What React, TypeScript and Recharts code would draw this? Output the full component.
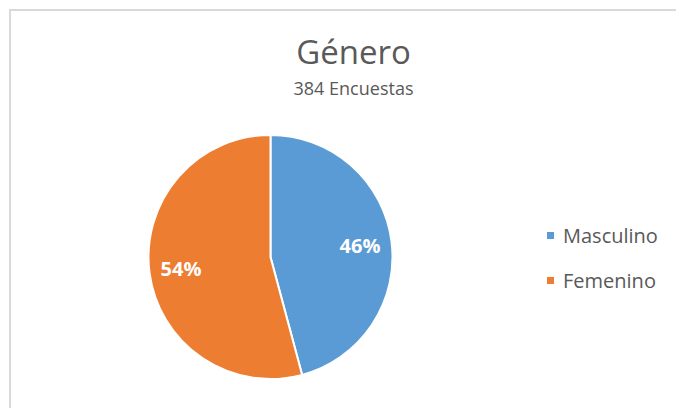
import React from 'react';
import { PieChart, Pie, Cell, Legend } from 'recharts';

const categories = ['Masculino', 'Femenino'];
const responses = [176, 208];
const colors = ['#5B9BD5', '#ED7D31'];
const title = 'Género';
const subtitle = '384 Encuestas';

const data = categories.map((name, i) => ({ name, value: responses[i] }));
const total = responses.reduce((a, b) => a + b, 0);

const RADIAN = Math.PI / 180;

const renderLabel = (props: any) => {
  const { cx, cy, midAngle, outerRadius, value } = props;
  const r = outerRadius * 0.74;
  const x = cx + r * Math.cos(-midAngle * RADIAN);
  const y = cy + r * Math.sin(-midAngle * RADIAN);
  return (
    <text
      x={x}
      y={y}
      fill="#ffffff"
      textAnchor="middle"
      dominantBaseline="central"
      fontSize={20}
      fontWeight="bold"
      fontFamily="'Open Sans', sans-serif"
    >
      {`${Math.round((value / total) * 100)}%`}
    </text>
  );
};

// keep legend in the same order as the categories
const renderLegend = (props: any) => {
  const items = [...(props.payload || [])].sort(
    (a: any, b: any) => categories.indexOf(a.value) - categories.indexOf(b.value)
  );
  return (
    <div>
      {items.map((entry: any, i: number) => (
        <div key={i} style={{ display: 'flex', alignItems: 'center', height: 45 }}>
          <span style={{ width: 7, height: 7, background: entry.color, display: 'inline-block', marginRight: 9 }} />
          <span style={{ fontSize: 20, color: '#595959', fontFamily: "'Open Sans', sans-serif", lineHeight: '20px' }}>
            {entry.value}
          </span>
        </div>
      ))}
    </div>
  );
};

const App: React.FC = () => {
  return (
    <div style={{ position: 'relative', width: 676, height: 400, overflow: 'hidden', background: '#fff' }}>
      <div
        style={{
          position: 'absolute',
          left: 1,
          top: 1,
          width: 720,
          height: 460,
          borderLeft: '2px solid #d9d9d9',
          borderTop: '2px solid #d9d9d9',
        }}
      />
      <svg width={676} height={100} style={{ position: 'absolute', left: 0, top: 0 }}>
        <text x={345.5} y={55.5} textAnchor="middle" fontSize={33} fill="#595959" fontFamily="'Open Sans', sans-serif">
          {title}
        </text>
        <text x={345.5} y={87} textAnchor="middle" fontSize={18} fill="#595959" fontFamily="'Open Sans', sans-serif">
          {subtitle}
        </text>
      </svg>
      <div style={{ position: 'absolute', left: 0, top: 0 }}>
        <PieChart width={676} height={400}>
          <Pie
            data={data}
            dataKey="value"
            nameKey="name"
            cx={257.5}
            cy={244}
            outerRadius={122}
            startAngle={90}
            endAngle={-270}
            stroke="#ffffff"
            strokeWidth={2}
            label={renderLabel}
            labelLine={false}
            isAnimationActive={false}
          >
            {data.map((d, i) => (
              <Cell key={d.name} fill={colors[i]} />
            ))}
          </Pie>
          <Legend
            content={renderLegend}
            wrapperStyle={{ position: 'absolute', left: 539, top: 205, width: 140 }}
          />
        </PieChart>
      </div>
    </div>
  );
};

export default App;
